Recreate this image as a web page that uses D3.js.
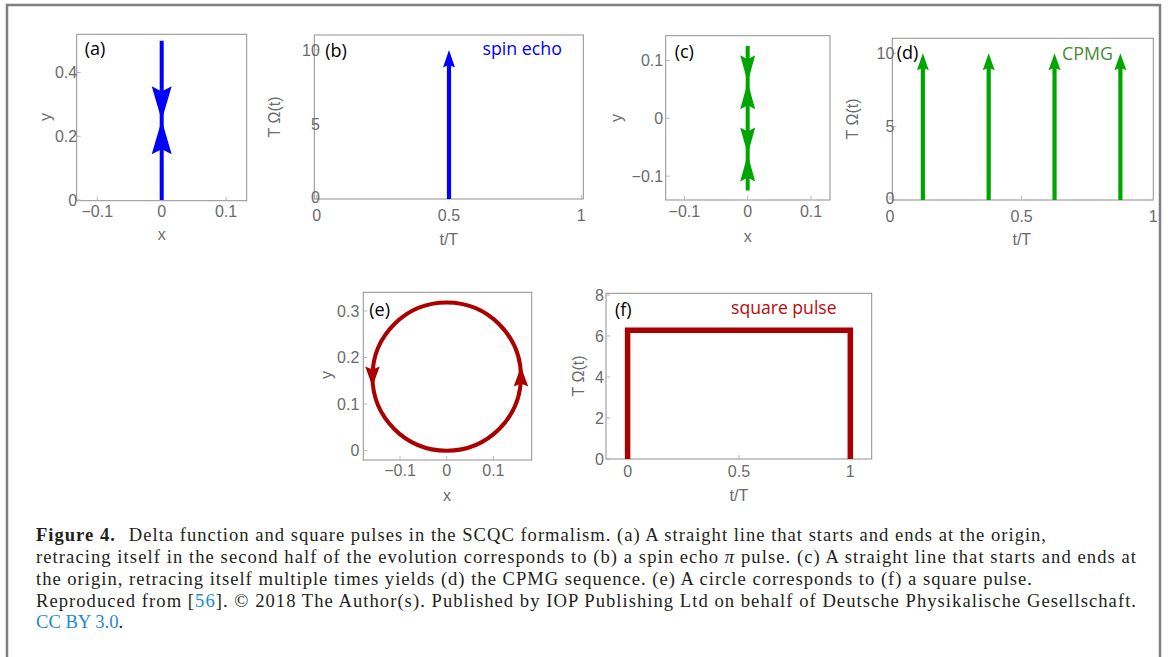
<!DOCTYPE html>
<html><head><meta charset="utf-8">
<script src="https://cdn.jsdelivr.net/npm/d3@7"></script>
<style>body{margin:0;background:#fff} svg{display:block}</style>
</head><body>
<script>
// ---------------- data ----------------
const panelLabels = ["(a)", "(b)", "(c)", "(d)", "(e)", "(f)"];

// (a) straight line from origin, retraced
const aPathY = [0, 0.5, 0];
const aArrowTipsY = [0.25, 0.25];
const aArrowDirs = ["up", "down"];

// (b) spin echo delta pulse
const bPulseTimes = [0.5];
const bPulseHeights = [10];

// (c) line retraced multiple times
const cPathY = [0, 0.125, 0, -0.125, 0];
const cArrowTipsY = [0.0625, 0.0625, -0.0625, -0.0625];
const cArrowDirs = ["up", "down", "down", "up"];

// (d) CPMG delta pulses
const dPulseTimes = [0.125, 0.375, 0.625, 0.875];
const dPulseHeights = [10, 10, 10, 10];

// (e) circle
const eCircleCenter = [0, 0.159];
const eCircleRadius = 0.159;
const eArrowX = [0.159, -0.159];
const eArrowY = [0.159, 0.159];
const eArrowDirs = ["up", "down"];

// (f) square pulse
const fPulseT = [0, 0, 1, 1];
const fPulseV = [0, 6.28, 6.28, 0];

// ticks
const aXTicks = [-0.1, 0, 0.1], aYTicks = [0, 0.2, 0.4];
const bXTicks = [0, 0.5, 1],    bYTicks = [0, 5, 10];
const cXTicks = [-0.1, 0, 0.1], cYTicks = [-0.1, 0, 0.1];
const dXTicks = [0, 0.5, 1],    dYTicks = [0, 5, 10];
const eXTicks = [-0.1, 0, 0.1], eYTicks = [0, 0.1, 0.2, 0.3];
const fXTicks = [0, 0.5, 1],    fYTicks = [0, 2, 4, 6, 8];

const annotations = ["spin echo", "CPMG", "square pulse"];

const captionLines = [
  [{t: "Figure 4.", b: true}, {t: "Delta function and square pulses in the SCQC formalism. (a) A straight line that starts and ends at the origin,", dx: 13}],
  [{t: "retracing itself in the second half of the evolution corresponds to (b) a spin echo "}, {t: "π", i: true}, {t: " pulse. (c) A straight line that starts and ends at"}],
  [{t: "the origin, retracing itself multiple times yields (d) the CPMG sequence. (e) A circle corresponds to (f) a square pulse."}],
  [{t: "Reproduced from ["}, {t: "56", link: true}, {t: "]. © 2018 The Author(s). Published by IOP Publishing Ltd on behalf of Deutsche Physikalische Gesellschaft."}],
  [{t: "CC BY 3.0", link: true}, {t: "."}]
];

// ---------------- drawing ----------------
const W = 1168, H = 657;
const svg = d3.select("body").append("svg").attr("width", W).attr("height", H);

const BLUE = "#0000ff", GREEN = "#00a600", RED = "#aa0000";
const FRAME = "#8f8f8f", TICKTXT = "#6b6b6b";
const TICKFONT = "'Liberation Sans', Arial, sans-serif";
const LABELFONT = "'Open Sans', sans-serif";
const SERIF = "'Liberation Serif', 'Times New Roman', serif";

// page frame
svg.append("path")
  .attr("d", `M7,${H} L7,5 L1160,5 L1160,${H}`)
  .attr("fill", "none").attr("stroke", "#808080").attr("stroke-width", 2.5);

function fmt(v) {
  const s = String(v);
  return v < 0 ? "\u2212" + s.slice(1) : s;
}

function makePanel(cfg) {
  const x = d3.scaleLinear().domain(cfg.xDom).range([cfg.x0, cfg.x1]);
  const y = d3.scaleLinear().domain(cfg.yDom).range([cfg.y1, cfg.y0]);
  const g = svg.append("g");
  g.append("rect").attr("x", cfg.x0).attr("y", cfg.y0)
    .attr("width", cfg.x1 - cfg.x0).attr("height", cfg.y1 - cfg.y0)
    .attr("fill", "none").attr("stroke", FRAME).attr("stroke-width", 1);
  g.selectAll(".xt").data(cfg.xTicks).join("line")
    .attr("class", "xt")
    .attr("x1", d => x(d)).attr("x2", d => x(d))
    .attr("y1", cfg.y1).attr("y2", cfg.y1 - 4)
    .attr("stroke", "#b5b5b5");
  g.selectAll(".yt").data(cfg.yTicks).join("line")
    .attr("class", "yt")
    .attr("x1", cfg.x0).attr("x2", cfg.x0 + 4)
    .attr("y1", d => y(d)).attr("y2", d => y(d))
    .attr("stroke", "#b5b5b5");
  g.selectAll(".xl").data(cfg.xTicks).join("text")
    .attr("class", "xl")
    .attr("x", d => x(d)).attr("y", cfg.y1 + cfg.xLabOff)
    .attr("text-anchor", "middle")
    .attr("font-family", TICKFONT).attr("font-size", 16).attr("fill", TICKTXT)
    .text(fmt);
  g.selectAll(".yl").data(cfg.yTicks).join("text")
    .attr("class", "yl")
    .attr("x", cfg.x0 + cfg.yLabOff).attr("y", d => y(d))
    .attr("dy", (d, i) => (i === 0 && cfg.lowZero) ? "0.25em" : "0.36em")
    .attr("text-anchor", "end")
    .attr("font-family", TICKFONT).attr("font-size", 16).attr("fill", TICKTXT)
    .text(fmt);
  g.append("text").attr("x", (cfg.x0 + cfg.x1) / 2 + (cfg.xTitleDx || 0)).attr("y", cfg.xTitleY)
    .attr("text-anchor", "middle")
    .attr("font-family", TICKFONT).attr("font-size", 16).attr("fill", TICKTXT)
    .text(cfg.xTitle);
  g.append("text")
    .attr("transform", `translate(${cfg.yTitleX},${cfg.yTitleY}) rotate(-90)`)
    .attr("dy", "0.33em")
    .attr("text-anchor", "middle")
    .attr("font-family", TICKFONT).attr("font-size", 16).attr("fill", TICKTXT)
    .text(cfg.yTitle);
  g.append("text").attr("x", cfg.x0 + cfg.labDx).attr("y", cfg.y0 + cfg.labDy)
    .attr("font-family", LABELFONT).attr("font-size", 18).attr("fill", "#000")
    .text(cfg.label);
  return {x, y, g};
}

function arrowHead(g, tx, ty, ux, uy, L, Wd, color) {
  const px = -uy, py = ux;
  const bx = tx - L * ux, by = ty - L * uy;
  const nx = tx - 0.85 * L * ux, ny = ty - 0.85 * L * uy;
  const p = d3.path();
  p.moveTo(tx, ty);
  p.lineTo(bx + px * Wd / 2, by + py * Wd / 2);
  p.lineTo(nx, ny);
  p.lineTo(bx - px * Wd / 2, by - py * Wd / 2);
  p.closePath();
  g.append("path").attr("d", p.toString()).attr("fill", color);
}

// (a)
{
  const P = makePanel({x0: 76.7, x1: 246.7, y0: 34.3, y1: 200.7,
    xDom: [-0.132, 0.132], yDom: [-0.002, 0.52], xTicks: aXTicks, yTicks: aYTicks,
    xLabOff: 16.5, yLabOff: 0.5, xTitle: "x", xTitleY: 240, yTitle: "y", yTitleX: 46, yTitleY: 117,
    label: panelLabels[0], labDx: 8, labDy: 21});
  const line = d3.line().x(() => P.x(0)).y(d => P.y(d));
  P.g.append("path").attr("d", line(aPathY)).attr("fill", "none")
    .attr("stroke", BLUE).attr("stroke-width", 4);
  aArrowTipsY.forEach((v, i) => {
    const uy = aArrowDirs[i] === "up" ? -1 : 1;
    arrowHead(P.g, P.x(0), P.y(v), 0, uy, 34, 20, BLUE);
  });
}

// (b)
{
  const P = makePanel({x0: 314.3, x1: 583.3, y0: 35, y1: 199,
    xDom: [-0.009, 1.0075], yDom: [0, 11], xTicks: bXTicks, yTicks: bYTicks,
    xLabOff: 21.5, yLabOff: 5.5, lowZero: true, xTitle: "t/T", xTitleY: 245, yTitle: "T \u03A9(t)", yTitleX: 275, yTitleY: 117,
    label: panelLabels[1], labDx: 11, labDy: 22});
  bPulseTimes.forEach((t, i) => {
    const L = 17.5;
    P.g.append("line").attr("x1", P.x(t)).attr("x2", P.x(t))
      .attr("y1", P.y(0)).attr("y2", P.y(bPulseHeights[i]) + L * 0.8)
      .attr("stroke", BLUE).attr("stroke-width", 4.2);
    arrowHead(P.g, P.x(t), P.y(bPulseHeights[i]), 0, -1, L, 12, BLUE);
  });
  P.g.append("text").attr("x", 482.5).attr("y", 55)
    .attr("font-family", LABELFONT).attr("font-size", 17.8).attr("fill", BLUE)
    .text(annotations[0]);
}

// (c)
{
  const P = makePanel({x0: 665.7, x1: 830, y0: 35.7, y1: 200,
    xDom: [-0.1295, 0.13], yDom: [-0.1413, 0.1429], xTicks: cXTicks, yTicks: cYTicks,
    xLabOff: 16.5, yLabOff: -2.5, xTitle: "x", xTitleY: 241.5, yTitle: "y", yTitleX: 617, yTitleY: 118,
    label: panelLabels[2], labDx: 9, labDy: 22});
  const line = d3.line().x(() => P.x(0)).y(d => P.y(d));
  P.g.append("path").attr("d", line(cPathY)).attr("fill", "none")
    .attr("stroke", GREEN).attr("stroke-width", 4);
  cArrowTipsY.forEach((v, i) => {
    const uy = cArrowDirs[i] === "up" ? -1 : 1;
    arrowHead(P.g, P.x(0), P.y(v), 0, uy, 27, 15, GREEN);
  });
}

// (d)
{
  const P = makePanel({x0: 892.3, x1: 1153.3, y0: 38.3, y1: 200,
    xDom: [0.009, 1.0], yDom: [0, 11.02], xTicks: dXTicks, yTicks: dYTicks,
    xLabOff: 21.5, yLabOff: 2, lowZero: true, xTitle: "t/T", xTitleY: 245, xTitleDx: -1, yTitle: "T \u03A9(t)", yTitleX: 852.5, yTitleY: 119,
    label: panelLabels[3], labDx: 4.5, labDy: 21});
  dPulseTimes.forEach((t, i) => {
    const L = 17;
    P.g.append("line").attr("x1", P.x(t)).attr("x2", P.x(t))
      .attr("y1", P.y(0)).attr("y2", P.y(dPulseHeights[i]) + L * 0.8)
      .attr("stroke", GREEN).attr("stroke-width", 4.2);
    arrowHead(P.g, P.x(t), P.y(dPulseHeights[i]), 0, -1, L, 12, GREEN);
  });
  P.g.append("text").attr("x", 1062).attr("y", 60)
    .attr("font-family", LABELFONT).attr("font-size", 17.8).attr("fill", "#4a8a35")
    .text(annotations[1]);
}

// (e)
{
  const P = makePanel({x0: 363.3, x1: 531.7, y0: 292.3, y1: 460,
    xDom: [-0.1786, 0.182], yDom: [-0.02, 0.34], xTicks: eXTicks, yTicks: eYTicks,
    xLabOff: 16, yLabOff: -4, xTitle: "x", xTitleY: 500.5, xTitleDx: -0.5, yTitle: "y", yTitleX: 327, yTitleY: 375,
    label: panelLabels[4], labDx: 6, labDy: 24});
  P.g.append("ellipse")
    .attr("cx", P.x(eCircleCenter[0])).attr("cy", P.y(eCircleCenter[1]))
    .attr("rx", P.x(eCircleRadius) - P.x(0)).attr("ry", P.y(0) - P.y(eCircleRadius))
    .attr("fill", "none").attr("stroke", RED).attr("stroke-width", 4);
  eArrowX.forEach((xv, i) => {
    const uy = eArrowDirs[i] === "up" ? -1 : 1;
    const L = 20;
    arrowHead(P.g, P.x(xv), P.y(eArrowY[i]) + uy * L / 2, 0, uy, L, 14.5, RED);
  });
}

// (f)
{
  const P = makePanel({x0: 606, x1: 871.7, y0: 293.3, y1: 459,
    xDom: [-0.097, 1.096], yDom: [0, 8.08], xTicks: fXTicks, yTicks: fYTicks,
    xLabOff: 17.5, yLabOff: -2, xTitle: "t/T", xTitleY: 501, xTitleDx: 0, yTitle: "T \u03A9(t)", yTitleX: 579, yTitleY: 376,
    label: panelLabels[5], labDx: 9, labDy: 23});
  const line = d3.line().x((d, i) => P.x(fPulseT[i])).y(d => P.y(d));
  P.g.append("path").attr("d", line(fPulseV)).attr("fill", "none")
    .attr("stroke", RED).attr("stroke-width", 5.5).attr("stroke-linejoin", "miter");
  P.g.append("text").attr("x", 731).attr("y", 313.5)
    .attr("font-family", LABELFONT).attr("font-size", 17.6).attr("fill", "#bb0a0a")
    .text(annotations[2]);
}

// caption
const capBase = [541, 563, 584.7, 606.5, 628.3];
const capWidth = [1010, 1100, 996, 1100, null];
captionLines.forEach((parts, li) => {
  const t = svg.append("text").attr("x", 36).attr("y", capBase[li])
    .attr("font-family", SERIF)
    .attr("font-size", 18.6).attr("fill", "#231f20");
  if (capWidth[li]) t.attr("textLength", capWidth[li]).attr("lengthAdjust", "spacing");
  parts.forEach(p => {
    const ts = t.append("tspan").text(p.t);
    if (p.b) ts.attr("font-weight", "bold");
    if (p.i) ts.attr("font-style", "italic");
    if (p.link) ts.attr("fill", "#1f8ad2");
    if (p.dx) ts.attr("dx", p.dx);
  });
});
</script>
</body></html>
